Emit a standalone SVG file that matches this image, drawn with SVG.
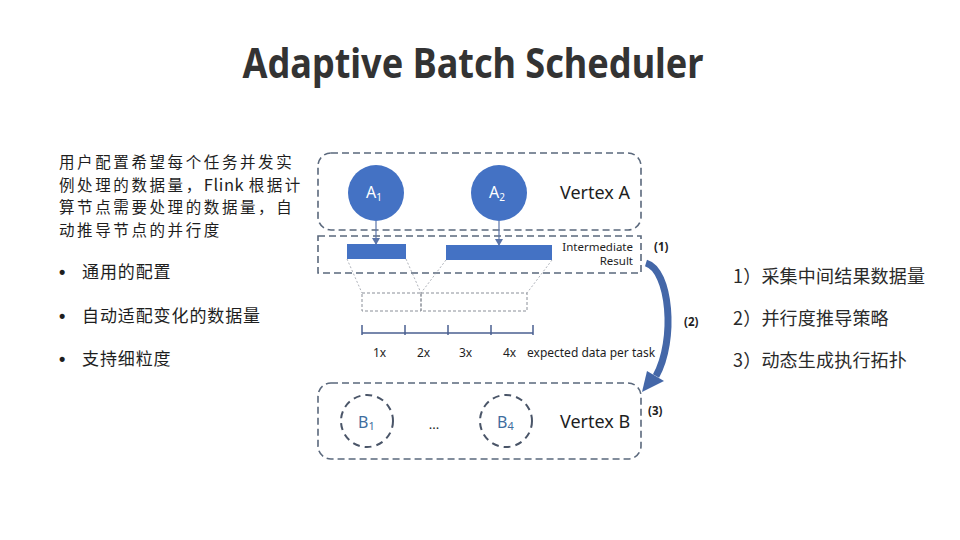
<svg xmlns="http://www.w3.org/2000/svg" width="960" height="540" viewBox="0 0 960 540">
<style>
text{font-family:"Noto Sans","Noto Sans CJK SC",sans-serif;fill:#1e1e1e}
.cjk{font-family:"Noto Sans CJK SC","Noto Sans",sans-serif;font-size:17px;letter-spacing:0.9px}
.para{font-family:"Noto Sans CJK SC","Noto Sans",sans-serif;font-size:15.5px;letter-spacing:2.6px}
.lat{letter-spacing:0.6px;font-size:16.5px}
.bul{font-family:"Liberation Sans",sans-serif;font-size:18px;font-weight:bold}
.rl{font-family:"Noto Sans CJK SC","Noto Sans",sans-serif;font-size:18px;fill:#2a2a2a;letter-spacing:0.2px}
.box{fill:none;stroke:#5a687c;stroke-width:1.6;stroke-dasharray:7 4}
.sub{fill:none;stroke:#8a8f98;stroke-width:1;stroke-dasharray:3 2}
.thin{stroke:#9aa0a8;stroke-width:0.8;stroke-dasharray:2 2;fill:none}
.blue{fill:#4472C4}
.vlab{font-size:18px}
.tick{stroke:#4a5f90;stroke-width:1.5}
.sx{font-size:12px}
.num{font-size:11.5px;font-weight:bold}
</style>
<defs>
<marker id="ah" markerWidth="8" markerHeight="8" refX="6" refY="4" orient="auto" markerUnits="userSpaceOnUse">
<path d="M0,0 L7,4 L0,8 Z" fill="#5b74a8"/>
</marker>
</defs>
<rect width="960" height="540" fill="#ffffff"/>
<text x="473" y="78" text-anchor="middle" font-size="42" font-weight="bold" style="fill:#333333" textLength="461" lengthAdjust="spacingAndGlyphs">Adaptive Batch Scheduler</text>

<g id="left-text">
<text class="para" x="59" y="168">用户配置希望每个任务并发实</text>
<text class="para" x="59" y="190.5">例处理的数据量，<tspan class="lat">Flink </tspan>根据计</text>
<text class="para" x="59" y="213">算节点需要处理的数据量，自</text>
<text class="para" x="59" y="235.5">动推导节点的并行度</text>
<text class="bul" x="59" y="278">•</text><text class="cjk" x="82" y="278">通用的配置</text>
<text class="bul" x="59" y="322">•</text><text class="cjk" x="82" y="322">自动适配变化的数据量</text>
<text class="bul" x="59" y="365">•</text><text class="cjk" x="82" y="365">支持细粒度</text>
</g>

<g id="right-list">
<text class="rl" x="733" y="283">1）采集中间结果数据量</text>
<text class="rl" x="733" y="325">2）并行度推导策略</text>
<text class="rl" x="733" y="367">3）动态生成执行拓扑</text>
</g>

<g id="vertex-a">
<rect class="box" x="318" y="153" width="323" height="77" rx="13"/>
<text class="vlab" x="560" y="199">Vertex A</text>
</g>
<g id="a1">
<circle class="blue" cx="376" cy="193" r="28"/>
<text x="366" y="198" font-size="16" style="fill:#fff">A<tspan font-size="10" dy="3">1</tspan></text>
</g>
<g id="a2">
<circle class="blue" cx="499" cy="193" r="28"/>
<text x="489" y="198" font-size="16" style="fill:#fff">A<tspan font-size="10" dy="3">2</tspan></text>
</g>

<g id="intermediate">
<rect class="box" x="318" y="236" width="323" height="37"/>
<rect class="blue" x="347" y="244" width="59" height="15"/>
<rect class="blue" x="446" y="245" width="106" height="15"/>
<text x="633" y="251" font-size="11.5" text-anchor="end">Intermediate</text>
<text x="633" y="265" font-size="11.5" text-anchor="end">Result</text>
</g>

<g id="partitions">
<rect class="sub" x="362" y="293" width="59" height="18"/>
<rect class="sub" x="421" y="293" width="106" height="18"/>
</g>

<g id="scale">
<line class="tick" x1="362" y1="333" x2="533" y2="333"/>
<line class="tick" x1="362" y1="325" x2="362" y2="335"/>
<line class="tick" x1="405" y1="325" x2="405" y2="335"/>
<line class="tick" x1="448" y1="325" x2="448" y2="335"/>
<line class="tick" x1="491" y1="325" x2="491" y2="335"/>
<line class="tick" x1="533" y1="325" x2="533" y2="335"/>
<text class="sx" x="373" y="357">1x</text>
<text class="sx" x="417" y="357">2x</text>
<text class="sx" x="459" y="357">3x</text>
<text class="sx" x="503" y="357">4x</text>
<text class="sx" x="527" y="357">expected data per task</text>
</g>

<g id="vertex-b">
<rect class="box" x="318" y="383" width="323" height="76" rx="13"/>
<text class="vlab" x="560" y="428">Vertex B</text>
<text x="434" y="429" font-size="13" text-anchor="middle">...</text>
</g>
<g id="b1">
<circle cx="367" cy="421" r="26" fill="none" stroke="#4a5568" stroke-width="2" stroke-dasharray="7 5"/>
<text x="358" y="428" font-size="16" style="fill:#3f6e9e">B<tspan font-size="11" dy="2">1</tspan></text>
</g>
<g id="b4">
<circle cx="506" cy="421" r="26" fill="none" stroke="#4a5568" stroke-width="2" stroke-dasharray="7 5"/>
<text x="497" y="428" font-size="16" style="fill:#3f6e9e">B<tspan font-size="11" dy="2">4</tspan></text>
</g>

<g id="connectors">
<line x1="376" y1="221" x2="376" y2="244" stroke="#5b74a8" stroke-width="1.2" marker-end="url(#ah)"/>
<line x1="499" y1="221" x2="499" y2="245" stroke="#5b74a8" stroke-width="1.2" marker-end="url(#ah)"/>
<line class="thin" x1="347" y1="259" x2="362" y2="293"/>
<line class="thin" x1="406" y1="259" x2="421" y2="293"/>
<line class="thin" x1="446" y1="260" x2="421" y2="293"/>
<line class="thin" x1="552" y1="260" x2="527" y2="293"/>
<path d="M646,263 C670,270 676,340 656,376" fill="none" stroke="#4467a8" stroke-width="7"/>
<polygon points="642,392 647,371 664,381" fill="#4467a8"/>
<text class="num" x="654" y="251">(1)</text>
<text class="num" x="684" y="326">(2)</text>
<text class="num" x="648" y="415">(3)</text>
</g>
</svg>
